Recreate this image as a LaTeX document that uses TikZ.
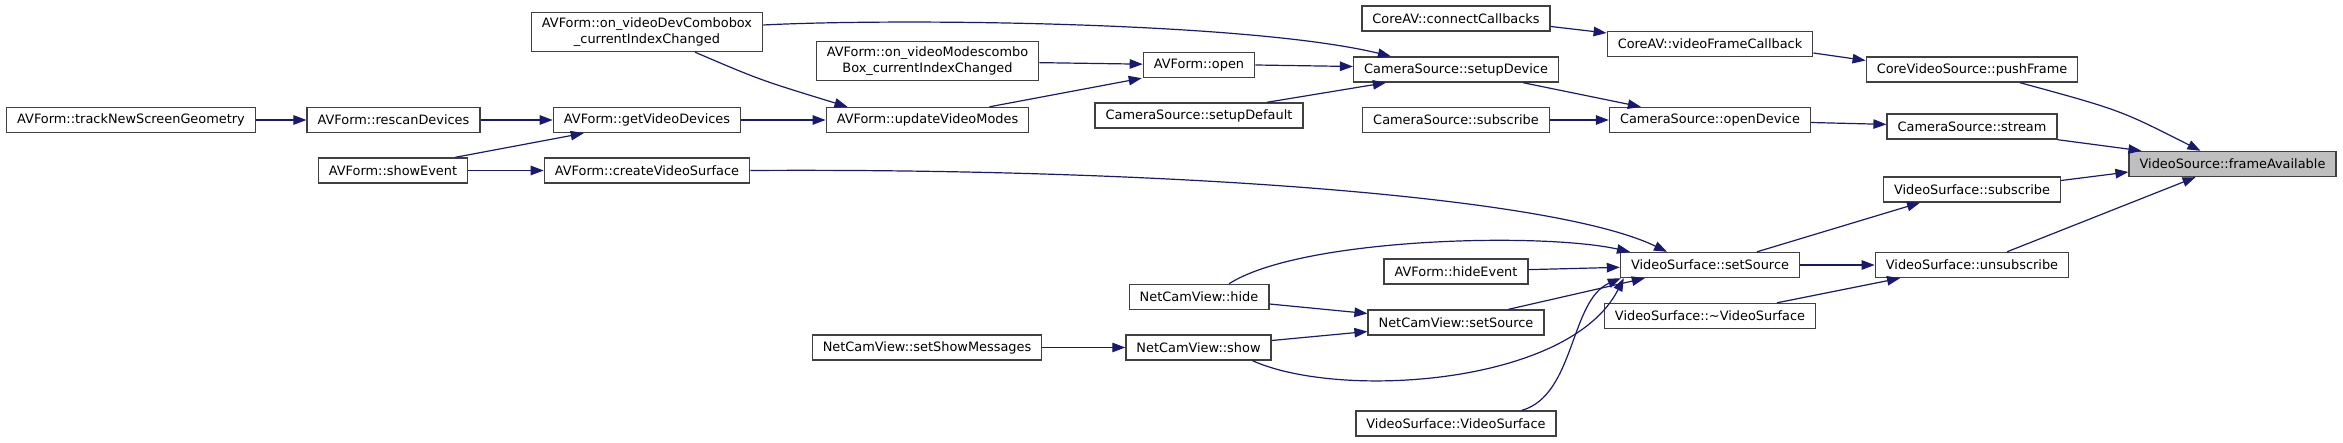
\documentclass[tikz,border=0pt]{standalone}
\usepackage{fontspec}
\setmainfont{DejaVu Sans}
\usetikzlibrary{arrows.meta}
\definecolor{edgeblue}{HTML}{191970}
\definecolor{selgray}{HTML}{BFBFBF}

\begin{document}
\begin{tikzpicture}[x=1pt, y=-1pt,
  fn/.style={draw=black!75, line width=1.4pt, fill=white, inner xsep=10.5pt, inner ysep=4pt,
    minimum height=25pt, align=center, font=\fontsize{12.9}{15.5}\selectfont},
  edge/.style={draw=edgeblue, line width=1.2pt, -{Triangle[length=13pt, width=9.5pt]}}]
  \useasboundingbox (0,0) rectangle (2343,443);

  % functions, column by column
  \foreach \n/\x/\y/\t in {
      track/131/120/AVForm::trackNewScreenGeometry,
      rescan/393.5/120/AVForm::rescanDevices,
      showev/393/170.5/AVForm::showEvent,
      getdev/647/120/AVForm::getVideoDevices,
      createvs/647/170.5/AVForm::createVideoSurface,
      updmodes/927.5/120/AVForm::updateVideoModes,
      setshow/927/347.5/NetCamView::setShowMessages,
      avopen/1199/65/AVForm::open,
      setupdef/1199/115.5/CameraSource::setupDefault,
      nchide/1199/297/NetCamView::hide,
      ncshow/1198.5/347.5/NetCamView::show,
      connectcb/1456/18.5/CoreAV::connectCallbacks,
      setupdev/1456/69.5/CameraSource::setupDevice,
      camsub/1456/120/CameraSource::subscribe,
      hideev/1456/271.5/AVForm::hideEvent,
      ncsetsrc/1456/322.5/NetCamView::setSource,
      vsctor/1456/423.5/VideoSurface::VideoSurface,
      vfcb/1710/44/CoreAV::videoFrameCallback,
      opendev/1710/120/CameraSource::openDevice,
      vssetsrc/1710/265/VideoSurface::setSource,
      vsdtor/1710/316/VideoSurface::\textasciitilde{}VideoSurface,
      pushframe/1972/69.5/CoreVideoSource::pushFrame,
      stream/1972/126.5/CameraSource::stream,
      vssub/1972/189.5/VideoSurface::subscribe,
      vsunsub/1972/265/VideoSurface::unsubscribe} {
    \node[fn] (\n) at (\x,\y) {\t};
  }
  \node[fn, minimum height=39pt] (devcombo) at (647,32) {AVForm::on\_videoDevCombobox\\\_currentIndexChanged};
  \node[fn, minimum height=39pt] (modescombo) at (927.5,61) {AVForm::on\_videoModescombo\\Box\_currentIndexChanged};
  \node[fn, fill=selgray] (frameav) at (2232.5,164) {VideoSource::frameAvailable};

  % plain calls
  \foreach \a/\b in {track/rescan, rescan/getdev, showev/createvs, getdev/updmodes,
      modescombo/avopen, camsub/opendev, opendev/stream, setshow/ncshow,
      vssetsrc/vsunsub, hideev/vssetsrc} {
    \draw[edge] (\a) -- (\b);
  }

  % the rest, by hand
  \draw[edge] ([xshift=-13pt]showev.north east) -- ([xshift=31pt]getdev.south west);
  \draw[edge] ([yshift=7pt]devcombo.east) .. controls (900,18) and (1250,22) .. ([xshift=38pt]setupdev.north west);
  \draw[edge] ([xshift=48pt]devcombo.south) .. controls (760,80) .. ([xshift=-80pt]updmodes.north);
  \draw[edge] ([xshift=62pt]updmodes.north) -- ([xshift=-1pt]avopen.south west);
  \draw[edge] (avopen.east) -- ([yshift=3pt]setupdev.west);
  \draw[edge] ([xshift=68pt]setupdef.north) -- ([xshift=33pt]setupdev.south west);
  \draw[edge] (createvs.east) .. controls (1150,168) and (1550,195) .. ([xshift=-43pt]vssetsrc.north);
  \draw[edge] ([yshift=-8pt]connectcb.east) -- ([yshift=11pt]vfcb.west);
  \draw[edge] ([xshift=-36pt]setupdev.south east) -- ([xshift=32pt]opendev.north west);
  \draw[edge] ([yshift=-9pt]vfcb.east) -- ([yshift=9pt]pushframe.west);
  \draw[edge] ([xshift=48pt]pushframe.south) .. controls (2120,110) .. ([xshift=-32pt]frameav.north);
  \draw[edge] (stream.south east) -- ([xshift=13pt]frameav.north west);
  \draw[edge] ([yshift=9pt]vssub.east) -- ([yshift=-8pt]frameav.west);
  \draw[edge] ([xshift=35pt]vsunsub.north) -- ([xshift=-37pt]frameav.south);
  \draw[edge] ([xshift=47pt]vssetsrc.north) -- ([xshift=-52pt]vssub.south);
  \draw[edge] ([xshift=67pt]vsdtor.north) -- ([xshift=-72pt]vsunsub.south);
  \draw[edge] ([xshift=30pt]nchide.north) .. controls (1300,238) and (1540,232) .. ([xshift=-80pt]vssetsrc.north);
  \draw[edge] ([xshift=-36pt]ncsetsrc.north east) -- ([xshift=25pt]vssetsrc.south west);
  \draw[edge] ([yshift=-7pt]nchide.east) -- ([yshift=9pt]ncsetsrc.west);
  \draw[edge] ([yshift=7pt]ncshow.east) -- ([yshift=-9pt]ncsetsrc.west);
  \draw[edge] ([xshift=54pt]ncshow.south) .. controls (1340,400) and (1570,385) .. ([xshift=4pt]vssetsrc.south west);
  \draw[edge] ([xshift=66pt]vsctor.north) .. controls (1575,395) and (1570,300) .. ([xshift=1pt]vssetsrc.south west);
\end{tikzpicture}
\end{document}
